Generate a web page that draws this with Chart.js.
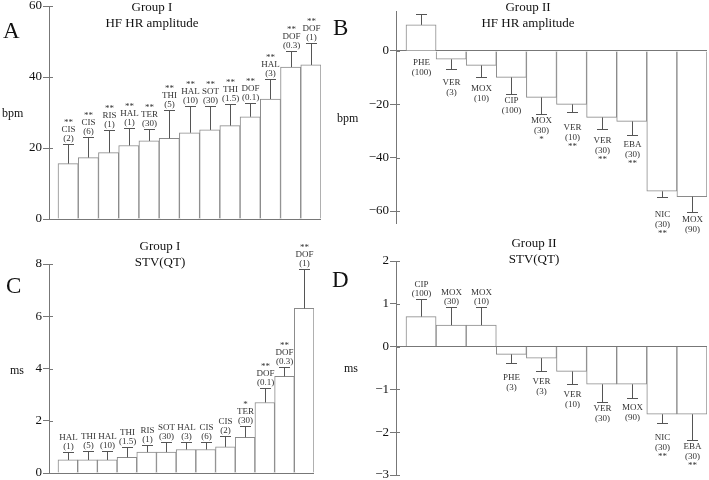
<!DOCTYPE html>
<html><head><meta charset="utf-8">
<script src="https://cdn.jsdelivr.net/npm/chart.js@4.4.1/dist/chart.umd.min.js"></script>
<style>
html,body{margin:0;padding:0;background:#fff;}
body{width:709px;height:480px;position:relative;overflow:hidden;font-family:"Liberation Serif",serif;color:#111;}
canvas{position:absolute;}
.t{position:absolute;white-space:nowrap;font-size:13px;line-height:16px;text-align:center;transform:translateX(-50%);}
.l{position:absolute;font-size:23px;line-height:23px;}
.u{position:absolute;font-size:12px;line-height:14px;}
</style></head><body>
<canvas id="cA" width="354" height="240" style="left:0;top:0"></canvas>
<canvas id="cB" width="355" height="240" style="left:354px;top:0"></canvas>
<canvas id="cC" width="354" height="240" style="left:0;top:240px"></canvas>
<canvas id="cD" width="355" height="240" style="left:354px;top:240px"></canvas>

<div class="t" style="left:152px;top:-1px">Group I<br>HF HR amplitude</div>
<div class="t" style="left:528px;top:-1px">Group II<br>HF HR amplitude</div>
<div class="t" style="left:160px;top:238px">Group I<br>STV(QT)</div>
<div class="t" style="left:534px;top:235px">Group II<br>STV(QT)</div>
<div class="l" style="left:3px;top:19px">A</div>
<div class="l" style="left:333px;top:16px">B</div>
<div class="l" style="left:6px;top:274px">C</div>
<div class="l" style="left:332px;top:268px">D</div>
<div class="u" style="left:2px;top:106px">bpm</div>
<div class="u" style="left:337px;top:111px">bpm</div>
<div class="u" style="left:10px;top:363px">ms</div>
<div class="u" style="left:344px;top:361px">ms</div>

<script>
// ---- Panel A: Group I, HF HR amplitude (bpm) ----
const catsA  = ['CIS','CIS','RIS','HAL','TER','THI','HAL','SOT','THI','DOF','HAL','DOF','DOF'];
const dosesA = ['(2)','(6)','(1)','(1)','(30)','(5)','(10)','(30)','(1.5)','(0.1)','(3)','(0.3)','(1)'];
const valsA  = [15.6,17.3,18.7,20.7,22.0,22.7,24.3,25.1,26.3,28.8,33.8,42.8,43.4];
const errTopA= [21.2,23.1,25.1,25.7,25.3,30.6,31.7,31.7,32.4,32.8,39.3,47.4,49.6];
const sigA   = ['**','**','**','**','**','**','**','**','**','**','**','**','**'];
const ticksA = [0,20,40,60];

// ---- Panel B: Group II, HF HR amplitude (bpm) ----
const catsB  = ['PHE','VER','MOX','CIP','MOX','VER','VER','EBA','NIC','MOX'];
const dosesB = ['(100)','(3)','(10)','(100)','(30)','(10)','(30)','(30)','(30)','(90)'];
const valsB  = [9.8,-3.1,-5.4,-9.9,-17.4,-20.0,-24.9,-26.4,-52.6,-54.6];
const errTopB= [13.9,-6.9,-9.6,-16.2,-23.7,-23.0,-29.3,-31.6,-54.9,-60.4];
const sigB   = ['','','','','*','**','**','**','**',''];
const ticksB = [-60,-40,-20,0];

// ---- Panel C: Group I, STV(QT) (ms) ----
const catsC  = ['HAL','THI','HAL','THI','RIS','SOT','HAL','CIS','CIS','TER','DOF','DOF','DOF'];
const dosesC = ['(1)','(5)','(10)','(1.5)','(1)','(30)','(3)','(6)','(2)','(30)','(0.1)','(0.3)','(1)'];
const valsC  = [0.5,0.5,0.5,0.6,0.8,0.8,0.9,0.9,1.0,1.37,2.7,3.7,6.3];
const errTopC= [0.8,0.86,0.85,0.99,1.08,1.2,1.19,1.19,1.4,1.78,3.27,4.07,7.8];
const sigC   = ['','','','','','','','','','*','**','**','**'];
const ticksC = [0,2,4,6,8];

// ---- Panel D: Group II, STV(QT) (ms) ----
const catsD  = ['CIP','MOX','MOX','PHE','VER','VER','VER','MOX','NIC','EBA'];
const dosesD = ['(100)','(30)','(10)','(3)','(3)','(10)','(30)','(90)','(30)','(30)'];
const valsD  = [0.7,0.5,0.5,-0.18,-0.27,-0.58,-0.88,-0.88,-1.58,-1.58];
const errTopD= [1.11,0.92,0.92,-0.39,-0.56,-0.88,-1.29,-1.19,-1.78,-2.19];
const sigD   = ['','','','','','','','','**','**'];
const ticksD = [-3,-2,-1,0,1,2];

Chart.defaults.font.family = '"Liberation Serif", "Times New Roman", serif';
Chart.defaults.color = '#111';

const annot = {
  id: 'annot',
  afterDatasetsDraw(chart, args, o) {
    const ctx = chart.ctx, xs = chart.scales.x, ys = chart.scales.y;
    const zero = ys.getPixelForValue(0);
    ctx.save();
    ctx.font = '9px "Liberation Serif", serif';
    ctx.textAlign = 'center';
    ctx.textBaseline = 'middle';
    o.vals.forEach((v, i) => {
      const x = Math.round(xs.getPixelForValue(i)) + 0.5;
      const yv = ys.getPixelForValue(v);
      const ye = Math.round(ys.getPixelForValue(o.errs[i])) + 0.5;
      ctx.strokeStyle = '#555';
      ctx.lineWidth = 1;
      ctx.beginPath();
      ctx.moveTo(x, yv); ctx.lineTo(x, ye);
      ctx.moveTo(x - 5.5, ye); ctx.lineTo(x + 5.5, ye);
      ctx.stroke();
      ctx.fillStyle = '#333';
      if (v >= 0 && o.above) {
        ctx.fillText(o.doses[i], x, ye - 5.5);
        ctx.fillText(o.cats[i], x, ye - 14.5);
        if (o.sig[i]) ctx.fillText(o.sig[i], x, ye - 22);
      } else {
        const y0 = v >= 0 ? zero + 12 : Math.max(yv + 23, ye + 6);
        ctx.fillText(o.cats[i], x, y0);
        ctx.fillText(o.doses[i], x, y0 + 10);
        if (o.sig[i]) ctx.fillText(o.sig[i], x, y0 + 19);
      }
    });
    ctx.restore();
  },
  afterDraw(chart) {
    const ctx = chart.ctx, ys = chart.scales.y, left = chart.chartArea.left;
    ctx.save();
    ctx.strokeStyle = '#777';
    ctx.lineWidth = 1;
    ys.ticks.forEach(t => {
      const y = Math.round(ys.getPixelForValue(t.value)) + 0.5;
      ctx.beginPath(); ctx.moveTo(left, y); ctx.lineTo(left + 4, y); ctx.stroke();
    });
    ctx.restore();
  }
};

function makePanel(id, cats, doses, vals, errs, sig, ticks, cfg) {
  const n = vals.length;
  new Chart(document.getElementById(id), {
    type: 'bar',
    data: {
      datasets: [{
        data: vals.map((v, i) => ({ x: i, y: v })),
        backgroundColor: '#ffffff',
        borderColor: '#8a8a8a',
        borderWidth: 1,
        barPercentage: 1,
        categoryPercentage: 1
      }]
    },
    options: {
      responsive: false,
      animation: false,
      devicePixelRatio: 1,
      layout: { padding: cfg.pad },
      plugins: { legend: { display: false }, title: { display: false }, tooltip: { enabled: false },
        annot: { cats, doses, vals, errs, sig, above: cfg.above } },
      scales: {
        x: {
          type: 'linear', display: false, offset: false,
          min: cfg.xMin, max: n - 0.5,
          afterBuildTicks(s) { s.ticks = vals.map((_, i) => ({ value: i })); }
        },
        y: {
          type: 'linear', min: cfg.yMin, max: cfg.yMax,
          afterBuildTicks(s) { s.ticks = ticks.map(v => ({ value: v })); },
          afterFit(s) { s.width = cfg.axisW; s.paddingTop = 0; s.paddingBottom = 0; },
          border: { display: true, color: '#777', width: 1 },
          grid: {
            drawOnChartArea: true, drawTicks: true, tickLength: 6, tickColor: '#777',
            color: c => (c.tick && c.tick.value === 0) ? '#777' : 'rgba(0,0,0,0)'
          },
          ticks: {
            padding: 1, color: '#111',
            font: { size: 13, lineHeight: 1 },
            callback: v => String(v).replace('-', '\u2212')
          }
        }
      }
    },
    plugins: [annot]
  });
}

makePanel('cA', catsA, dosesA, valsA, errTopA, sigA, ticksA,
  { pad: { top: 6, bottom: 21, left: 0, right: 33 }, axisW: 49, xMin: -0.945, yMin: 0, yMax: 60, above: true });
makePanel('cB', catsB, dosesB, valsB, errTopB, sigB, ticksB,
  { pad: { top: 11, bottom: 17, left: 0, right: 2 }, axisW: 42, xMin: -0.832, yMin: -64.5, yMax: 15, above: false });
makePanel('cC', catsC, dosesC, valsC, errTopC, sigC, ticksC,
  { pad: { top: 24, bottom: 7, left: 0, right: 40 }, axisW: 49, xMin: -0.957, yMin: 0, yMax: 8, above: true });
makePanel('cD', catsD, dosesD, valsD, errTopD, sigD, ticksD,
  { pad: { top: 21, bottom: 5, left: 0, right: 2 }, axisW: 42, xMin: -0.832, yMin: -3, yMax: 2, above: true });
</script>
</body></html>
